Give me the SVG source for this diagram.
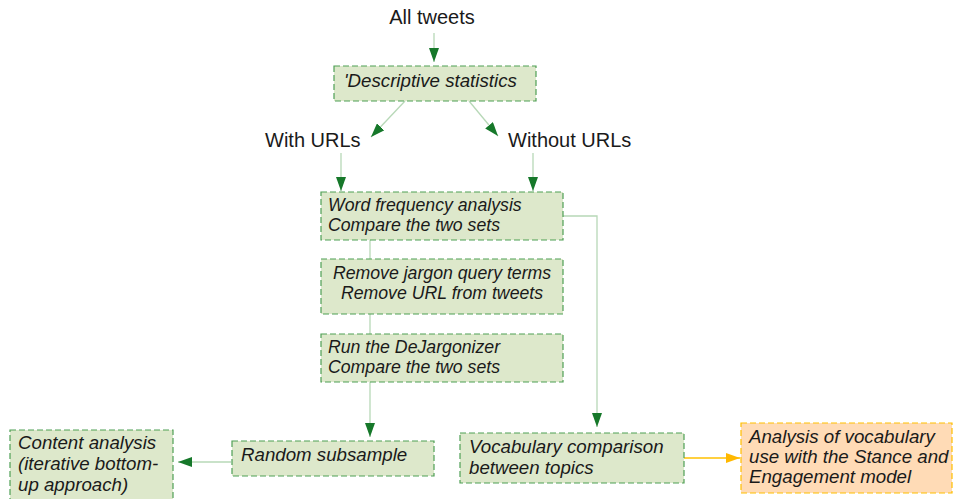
<svg xmlns="http://www.w3.org/2000/svg" width="953" height="499" viewBox="0 0 953 499">
<style>
.box{fill:#dde8cb;stroke:#4f9f55;stroke-width:1.2;stroke-dasharray:6 3}
.obox{fill:#ffdbb6;stroke:#ffbf00;stroke-width:1.2;stroke-dasharray:6 3}
.lbl{font-family:"Liberation Sans",Arial,sans-serif;font-size:20px;fill:#1a1a1a}
.t{font-family:"Liberation Sans",Arial,sans-serif;font-size:18.7px;font-style:italic;fill:#1a1a1a}
.s{font-size:17.7px}
.c{fill:none;stroke:#b7d8b7;stroke-width:1.3}
.y{fill:none;stroke:#ffc000;stroke-width:1.3}
</style>
<defs>
<marker id="ag" markerUnits="userSpaceOnUse" markerWidth="14" markerHeight="10" refX="14" refY="5" orient="auto" viewBox="0 0 14 10">
<path d="M0,0 L14,5 L0,10 z" fill="#16782a"/>
</marker>
<marker id="ay" markerUnits="userSpaceOnUse" markerWidth="14" markerHeight="10" refX="14" refY="5" orient="auto" viewBox="0 0 14 10">
<path d="M0,0 L14,5 L0,10 z" fill="#ffb800"/>
</marker>
</defs>
<rect width="953" height="499" fill="#ffffff"/>
<g id="connectors">
<path class="c" d="M434,33 L434,62" marker-end="url(#ag)"/>
<path class="c" d="M405,101 L371,137" marker-end="url(#ag)"/>
<path class="c" d="M469,101 L498,136" marker-end="url(#ag)"/>
<path class="c" d="M341,153 L341,191" marker-end="url(#ag)"/>
<path class="c" d="M533,153 L533,191" marker-end="url(#ag)"/>
<path class="c" d="M563,216 L597,216 L597,427" marker-end="url(#ag)"/>
<path class="c" d="M370,240 L370,259"/>
<path class="c" d="M370,314 L370,334"/>
<path class="c" d="M370,382 L370,437" marker-end="url(#ag)"/>
<path class="c" d="M231,462 L178,462" marker-end="url(#ag)"/>
<path class="y" d="M684,458 L740,458" marker-end="url(#ay)"/>
</g>
<g id="all-tweets"><text class="lbl" x="432" y="24" text-anchor="middle">All tweets</text></g>
<g id="descriptive"><rect class="box" x="334" y="66" width="202" height="35"/><text class="t" x="344" y="87">'Descriptive statistics</text></g>
<g id="with-urls"><text class="lbl" x="265" y="147">With URLs</text></g>
<g id="without-urls"><text class="lbl" x="508" y="147">Without URLs</text></g>
<g id="word-freq"><rect class="box" x="321" y="192" width="242" height="48"/><text class="t s" x="328" y="211">Word frequency analysis</text><text class="t s" x="328" y="231">Compare the two sets</text></g>
<g id="remove-jargon"><rect class="box" x="321" y="259" width="242" height="55"/><text class="t s" x="442" y="279" text-anchor="middle">Remove jargon query terms</text><text class="t s" x="442" y="299" text-anchor="middle">Remove URL from tweets</text></g>
<g id="dejargonizer"><rect class="box" x="321" y="334" width="242" height="48"/><text class="t s" x="328" y="353">Run the DeJargonizer</text><text class="t s" x="328" y="373">Compare the two sets</text></g>
<g id="random-subsample"><rect class="box" x="232" y="441" width="202" height="35"/><text class="t" x="241" y="461">Random subsample</text></g>
<g id="content-analysis"><rect class="box" x="10" y="430" width="163" height="72"/><text class="t" x="18" y="449">Content analysis</text><text class="t" x="18" y="470">(iterative bottom-</text><text class="t" x="18" y="491">up approach)</text></g>
<g id="vocab-comparison"><rect class="box" x="460" y="433" width="224" height="50"/><text class="t" x="469" y="453">Vocabulary comparison</text><text class="t" x="469" y="474">between topics</text></g>
<g id="stance-engagement"><rect class="obox" x="741" y="423" width="211" height="70"/><text class="t" x="749" y="443">Analysis of vocabulary</text><text class="t" x="749" y="463">use with the Stance and</text><text class="t" x="749" y="483">Engagement model</text></g>
</svg>
